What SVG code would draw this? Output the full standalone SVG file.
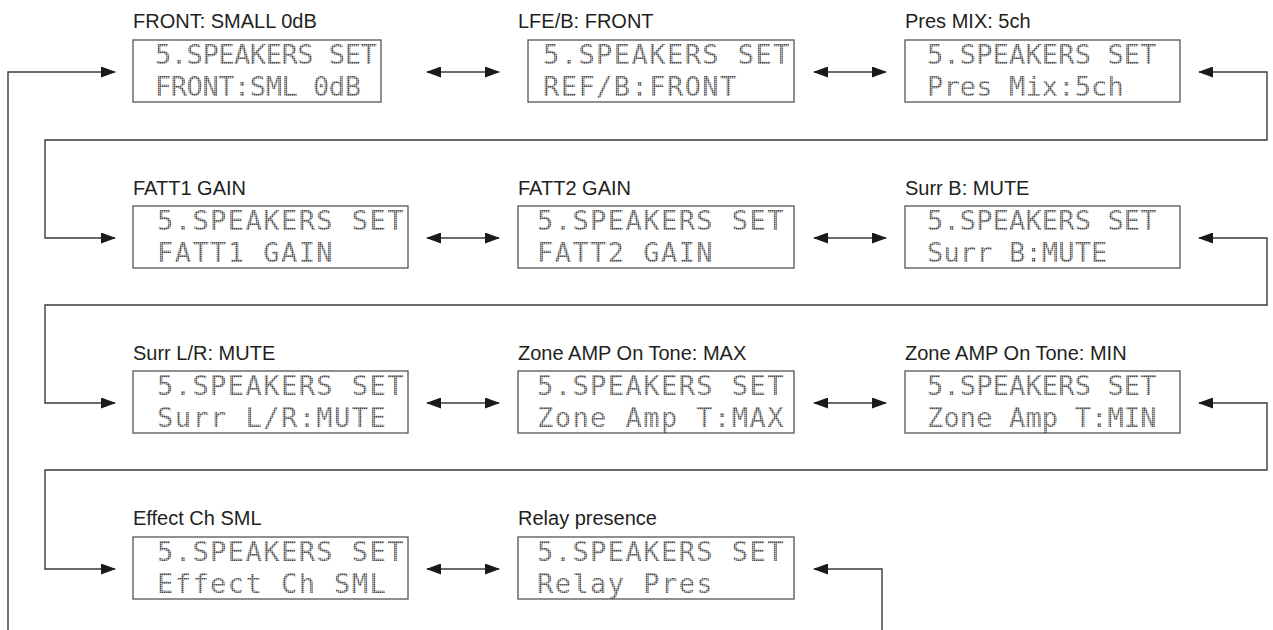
<svg xmlns="http://www.w3.org/2000/svg" width="1273" height="630" viewBox="0 0 1273 630">
<style>
.lbl{font-family:"Liberation Sans",Arial,sans-serif;font-size:20px;fill:#231f20}
.box{fill:#fff;stroke:#555;stroke-width:1.3}
.lcd{font-family:"DejaVu Sans Mono","Liberation Mono",monospace;font-size:27px;fill:url(#dots)}
.c12{letter-spacing:1.45px}
.c3{letter-spacing:0.15px}
.r1{letter-spacing:-0.45px}
.ln{fill:none;stroke:#3a3a3a;stroke-width:1.4}
.arr{marker-end:url(#ah)}
.bi{marker-start:url(#ah);marker-end:url(#ah)}
</style>
<defs>
<pattern id="dots" patternUnits="userSpaceOnUse" width="2" height="2">
<rect width="1.6" height="1.6" fill="#4a4a4a"/>
</pattern>
<marker id="ah" markerUnits="userSpaceOnUse" viewBox="0 0 15 11" refX="14" refY="5.5" markerWidth="15" markerHeight="11" orient="auto-start-reverse">
<path d="M0,0 L15,5.5 L0,11 z" fill="#1a1a1a"/>
</marker>
</defs>

<g id="connectors">
<path class="ln arr" d="M8,630 V72 H115"/>
<path class="ln bi" d="M427,72 H499"/>
<path class="ln bi" d="M814,72 H886"/>
<path class="ln bi" d="M1199,72 H1267 V140 H45 V238 H115"/>
<path class="ln bi" d="M427,238 H499"/>
<path class="ln bi" d="M814,238 H886"/>
<path class="ln bi" d="M1199,238 H1267 V305 H45 V403 H115"/>
<path class="ln bi" d="M427,403 H499"/>
<path class="ln bi" d="M814,403 H886"/>
<path class="ln bi" d="M1199,403 H1267 V470 H45 V569 H115"/>
<path class="ln bi" d="M427,569 H499"/>
<path class="ln arr" d="M882,630 V569 H814"/>
</g>

<g id="n1">
<text class="lbl" x="133" y="28">FRONT: SMALL 0dB</text>
<rect class="box" x="133" y="40" width="248" height="62"/>
<text class="lcd r1" x="155" y="64">5.SPEAKERS SET</text>
<text class="lcd r1" x="155" y="96">FRONT:SML 0dB</text>
</g>
<g id="n2">
<text class="lbl" x="518" y="28">LFE/B: FRONT</text>
<rect class="box" x="528" y="40" width="266" height="62"/>
<text class="lcd c12" x="543" y="64">5.SPEAKERS SET</text>
<text class="lcd c12" x="543" y="96">REF/B:FRONT</text>
</g>
<g id="n3">
<text class="lbl" x="905" y="28">Pres MIX: 5ch</text>
<rect class="box" x="905" y="40" width="275" height="62"/>
<text class="lcd c3" x="927" y="64">5.SPEAKERS SET</text>
<text class="lcd c3" x="927" y="96">Pres Mix:5ch</text>
</g>

<g id="n4">
<text class="lbl" x="133" y="195">FATT1 GAIN</text>
<rect class="box" x="133" y="206" width="275" height="62"/>
<text class="lcd c12" x="157" y="230">5.SPEAKERS SET</text>
<text class="lcd c12" x="157" y="262">FATT1 GAIN</text>
</g>
<g id="n5">
<text class="lbl" x="518" y="195">FATT2 GAIN</text>
<rect class="box" x="518" y="206" width="276" height="62"/>
<text class="lcd c12" x="537" y="230">5.SPEAKERS SET</text>
<text class="lcd c12" x="537" y="262">FATT2 GAIN</text>
</g>
<g id="n6">
<text class="lbl" x="905" y="195">Surr B: MUTE</text>
<rect class="box" x="905" y="206" width="275" height="62"/>
<text class="lcd c3" x="927" y="230">5.SPEAKERS SET</text>
<text class="lcd c3" x="927" y="262">Surr B:MUTE</text>
</g>

<g id="n7">
<text class="lbl" x="133" y="360">Surr L/R: MUTE</text>
<rect class="box" x="133" y="371" width="275" height="62"/>
<text class="lcd c12" x="157" y="395">5.SPEAKERS SET</text>
<text class="lcd c12" x="157" y="427">Surr L/R:MUTE</text>
</g>
<g id="n8">
<text class="lbl" x="518" y="360">Zone AMP On Tone: MAX</text>
<rect class="box" x="518" y="371" width="276" height="62"/>
<text class="lcd c12" x="537" y="395">5.SPEAKERS SET</text>
<text class="lcd c12" x="537" y="427">Zone Amp T:MAX</text>
</g>
<g id="n9">
<text class="lbl" x="905" y="360">Zone AMP On Tone: MIN</text>
<rect class="box" x="905" y="371" width="275" height="62"/>
<text class="lcd c3" x="927" y="395">5.SPEAKERS SET</text>
<text class="lcd c3" x="927" y="427">Zone Amp T:MIN</text>
</g>

<g id="n10">
<text class="lbl" x="133" y="525">Effect Ch SML</text>
<rect class="box" x="133" y="537" width="275" height="62"/>
<text class="lcd c12" x="157" y="561">5.SPEAKERS SET</text>
<text class="lcd c12" x="157" y="593">Effect Ch SML</text>
</g>
<g id="n11">
<text class="lbl" x="518" y="525">Relay presence</text>
<rect class="box" x="518" y="537" width="276" height="62"/>
<text class="lcd c12" x="537" y="561">5.SPEAKERS SET</text>
<text class="lcd c12" x="537" y="593">Relay Pres</text>
</g>
</svg>
